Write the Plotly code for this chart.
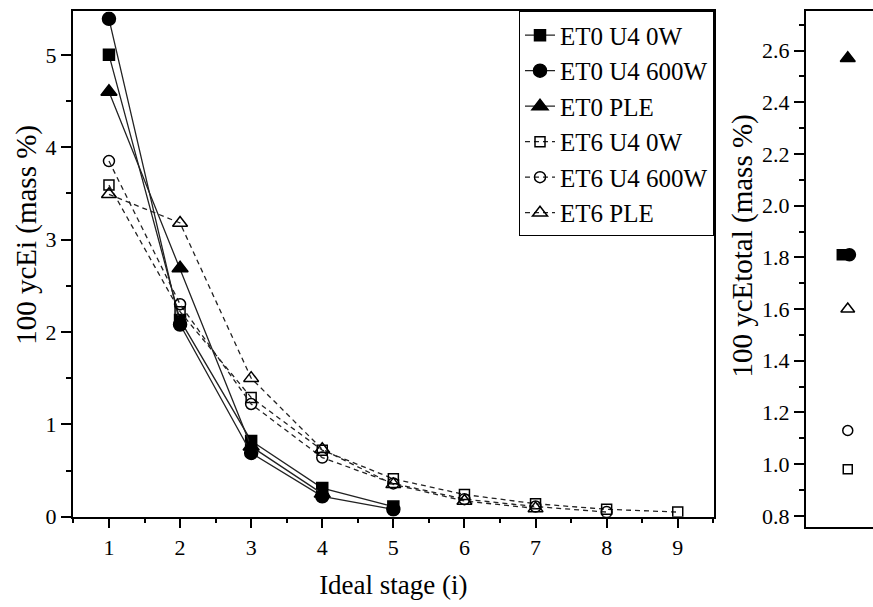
import plotly.graph_objects as go

# ---------------- data ----------------
stages_et0_0w = [1, 2, 3, 4, 5]
et0_u4_0w = [5.00, 2.13, 0.82, 0.31, 0.11]
stages_et0_600w = [1, 2, 3, 4, 5]
et0_u4_600w = [5.39, 2.08, 0.69, 0.22, 0.08]
stages_et0_ple = [1, 2, 3, 4]
et0_ple = [4.60, 2.69, 0.76, 0.25]

stages_et6_0w = [1, 2, 3, 4, 5, 6, 7, 8, 9]
et6_u4_0w = [3.59, 2.22, 1.29, 0.72, 0.41, 0.24, 0.14, 0.08, 0.05]
stages_et6_600w = [1, 2, 3, 4, 5, 6, 7, 8]
et6_u4_600w = [3.85, 2.30, 1.22, 0.64, 0.36, 0.19, 0.11, 0.05]
stages_et6_ple = [1, 2, 3, 4, 5, 6, 7]
et6_ple = [3.49, 3.18, 1.50, 0.73, 0.35, 0.17, 0.09]

names = ["ET0 U4 0W", "ET0 U4 600W", "ET0 PLE", "ET6 U4 0W", "ET6 U4 600W", "ET6 PLE"]
totals = [1.81, 1.81, 2.57, 0.98, 1.13, 1.60]
total_x = [0.87, 1.04, 1.0, 1.0, 1.0, 1.0]

x_ticks = [1, 2, 3, 4, 5, 6, 7, 8, 9]
y_ticks = [0, 1, 2, 3, 4, 5]
y2_ticks = [0.8, 1.0, 1.2, 1.4, 1.6, 1.8, 2.0, 2.2, 2.4, 2.6]

# ---------------- styling ----------------
FONT = "Liberation Serif"
W, H = 873, 607
symbols = ["square", "circle", "triangle-up", "square-open", "circle-open", "triangle-up-open"]
sizes = [11, 13, 14, 10, 11, 13]
dashes = ["solid", "solid", "solid", "5px,4px", "5px,4px", "5px,4px"]

series = [
    (stages_et0_0w, et0_u4_0w),
    (stages_et0_600w, et0_u4_600w),
    (stages_et0_ple, et0_ple),
    (stages_et6_0w, et6_u4_0w),
    (stages_et6_600w, et6_u4_600w),
    (stages_et6_ple, et6_ple),
]

fig = go.Figure()
for i, (xs, ys) in enumerate(series):
    fig.add_trace(go.Scatter(
        x=xs, y=ys, name=names[i], mode="lines+markers",
        line=dict(color="#222222", width=1.3, dash=dashes[i]),
        marker=dict(symbol=symbols[i], size=sizes[i], color="black",
                    line=dict(color="black", width=1.5)),
        xaxis="x", yaxis="y",
    ))

for i in range(6):
    fig.add_trace(go.Scatter(
        x=[total_x[i]], y=[totals[i]], mode="markers", showlegend=False,
        marker=dict(symbol=symbols[i], size=sizes[i] - 1, color="black",
                    line=dict(color="black", width=1.5)),
        xaxis="x2", yaxis="y2",
    ))

def px_x(a, b):
    return [a / W, b / W]

def px_y(top, bottom):
    return [(H - bottom) / H, (H - top) / H]

minor_style = dict(ticks="outside", ticklen=5, tickcolor="black", tickwidth=1.5)
axis_common = dict(showline=True, linecolor="black", linewidth=1.5,
                   showgrid=False, zeroline=False,
                   tickfont=dict(family=FONT, size=22, color="black"),
                   ticks="outside", tickcolor="black", tickwidth=1.5, ticklen=10)

fig.update_layout(
    width=W, height=H,
    margin=dict(l=0, r=0, t=0, b=0),
    paper_bgcolor="white", plot_bgcolor="white",
    font=dict(family=FONT, color="black"),
    xaxis=dict(domain=px_x(72.7, 714), range=[0.49, 9.51], tickvals=x_ticks,
               mirror=True, anchor="y",
               minor=dict(dtick=0.5, tick0=0.5, **minor_style),
               title=dict(text="Ideal stage (i)", font=dict(family=FONT, size=27, color="black"), standoff=16),
               **axis_common),
    yaxis=dict(domain=px_y(11.7, 528), range=[0, 5.47], tickvals=y_ticks,
               mirror=True, anchor="x",
               minor=dict(dtick=0.5, tick0=0, **minor_style),
               **axis_common),
    xaxis2=dict(domain=px_x(805.7, 873), range=[0, 1.6], showticklabels=False,
                anchor="y2", showline=True, linecolor="black", linewidth=1.5,
                mirror=True, ticks="", showgrid=False, zeroline=False),
    yaxis2=dict(domain=px_y(11, 539), range=[0.755, 2.754], tickvals=y2_ticks,
                ticktext=[f"{v:.1f}" for v in y2_ticks], anchor="x2",
                minor=dict(dtick=0.1, tick0=0.7, **minor_style),
                **axis_common),
    legend=dict(x=714 / W, y=(H - 11.7) / H, xanchor="right", yanchor="top",
                bgcolor="white", bordercolor="black", borderwidth=1,
                font=dict(family=FONT, size=25, color="black"),
                tracegroupgap=0, itemwidth=30),
    showlegend=True,
    annotations=[
        dict(text="100 ycEi (mass %)", textangle=-90, xref="paper", yref="paper",
             x=27 / W, y=(H - 240) / H, xanchor="center", yanchor="middle",
             showarrow=False, font=dict(family=FONT, size=29, color="black")),
        dict(text="100 ycEtotal (mass %)", textangle=-90, xref="paper", yref="paper",
             x=743 / W, y=(H - 252) / H, xanchor="center", yanchor="middle",
             showarrow=False, font=dict(family=FONT, size=29, color="black")),
    ],
)

fig.write_html("out.html")
